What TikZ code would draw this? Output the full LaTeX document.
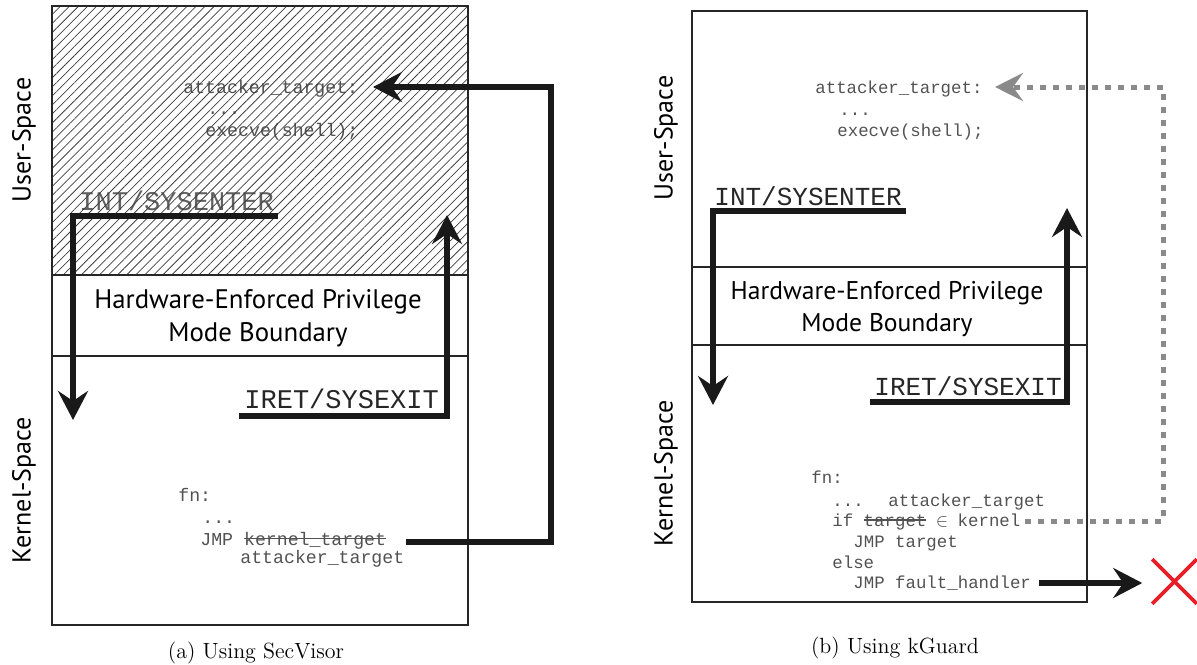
\documentclass[tikz,border=0pt]{standalone}
\usepackage{fontspec}
\setsansfont{PT Sans}
\setmonofont{Liberation Mono}
\usetikzlibrary{arrows.meta,patterns.meta,shapes.misc}
\definecolor{codegray}{gray}{0.32}
\definecolor{dotgray}{RGB}{138,138,138}
\definecolor{xred}{RGB}{232,30,40}
\newcommand{\xstrk}[1]{\setbox0=\hbox{#1}\rlap{\raisebox{0.31em}{\rule{\wd0}{0.07em}}}\box0\relax}
\begin{document}
\begin{tikzpicture}[x=0.5pt,y=-0.5pt,
  frame/.style={draw=black!85,line width=1pt},
  flow/.style={draw=black!90,line width=2.8pt,line join=miter},
  tipA/.style={-{Stealth[length=14.5pt,width=15pt,inset=5pt]}},
  dotline/.style={draw=dotgray,line width=2.5pt,dash pattern=on 3pt off 3.5pt},
  codeL/.style={font=\ttfamily\fontsize{9.1}{11}\selectfont,text=codegray,inner sep=0pt,anchor=base west},
  codeR/.style={font=\ttfamily\fontsize{8.7}{10.5}\selectfont,text=codegray,inner sep=0pt,anchor=base west},
  bigL/.style={font=\ttfamily\fontsize{13.5}{15}\selectfont,inner sep=0pt,anchor=base west},
  bigR/.style={font=\ttfamily\fontsize{13}{15}\selectfont,inner sep=0pt,anchor=base west},
  bndL/.style={font=\sffamily\fontsize{13.4}{15}\selectfont,inner sep=0pt,anchor=base},
  bndR/.style={font=\sffamily\fontsize{12.8}{15}\selectfont,inner sep=0pt,anchor=base},
  side/.style={font=\sffamily\fontsize{13}{15}\selectfont,inner sep=0pt,rotate=90},
  caption/.style={font=\fontsize{11}{13}\selectfont,inner sep=0pt,anchor=base}]
\useasboundingbox (0,0) rectangle (1197,664);

% ---------------- (a) SecVisor ----------------
\node[codeL] (atkL) at (183,93) {attacker\_target:};
\node[codeL] (dotsL) at (207,114) {...};
\node[codeL] (execL) at (205,136) {execve(shell);};
\node[bigL,text=black!62] (intL) at (79,210) {INT/SYSENTER};
\fill[pattern={Lines[angle=45,distance=3.2pt,line width=0.38pt]},pattern color=black!75] (52,6) rectangle (468,275);
\draw[frame] (52,6) rectangle (468,625);
\draw[frame] (52,275) -- (468,275);
\draw[frame] (52,356) -- (468,356);
\node[bndL] (hwL) at (258,308) {Hardware-Enforced Privilege};
\node[bndL] (mbL) at (258,341) {Mode Boundary};
\node[side] (usL) at (24,140) {User-Space};
\node[side] (ksL) at (24,490) {Kernel-Space};
\node[bigL,text=black!85] (iretL) at (244,408) {IRET/SYSEXIT};
\node[codeL] (fnL) at (178,501) {fn:};
\node[codeL] (dots2L) at (202,523) {...};
\node[codeL] (jmpL) at (200,545) {JMP \xstrk{kernel\_target}};
\node[codeL] (newL) at (240,563) {attacker\_target};
\node[caption] (capA) at (256,658) {(a) Using SecVisor};

\coordinate (intLs) at (278,216);
\coordinate (intLc) at (73,216);
\coordinate (intLe) at (73,420);
\draw[flow,tipA] (intLs) -- (intLc) -- (intLe);
\coordinate (iretLs) at (239,416);
\coordinate (iretLc) at (447,416);
\coordinate (iretLe) at (447,215);
\draw[flow,tipA] (iretLs) -- (iretLc) -- (iretLe);
\coordinate (atkLs) at (406,542);
\coordinate (atkLc1) at (551,542);
\coordinate (atkLc2) at (551,87);
\coordinate (atkLe) at (373,87);
\draw[flow,tipA] (atkLs) -- (atkLc1) -- (atkLc2) -- (atkLe);

% ---------------- (b) kGuard ----------------
\draw[frame] (692,11) rectangle (1087,602);
\draw[frame] (692,267) -- (1087,267);
\draw[frame] (692,345) -- (1087,345);
\node[bndR] (hwR) at (887,299) {Hardware-Enforced Privilege};
\node[bndR] (mbR) at (887,331) {Mode Boundary};
\node[side] (usR) at (666,138) {User-Space};
\node[side] (ksR) at (666,473) {Kernel-Space};
\node[codeR] (atkR) at (815,93) {attacker\_target:};
\node[codeR] (dotsR) at (839,115) {...};
\node[codeR] (execR) at (837,136) {execve(shell);};
\node[bigR,text=black!85] (intR) at (714,205) {INT/SYSENTER};
\node[bigR,text=black!85] (iretR) at (874,395) {IRET/SYSEXIT};
\node[codeR] (fnR) at (811,483) {fn:};
\node[codeR] (dots2R) at (832,506) {...};
\node[codeR] (atk2R) at (888,506) {attacker\_target};
\node[codeR] (ifR) at (832,526) {if \xstrk{target} \makebox[0.6em]{$\in$} kernel};
\node[codeR] (jmp1R) at (853,547) {JMP target};
\node[codeR] (elseR) at (832,568) {else};
\node[codeR] (jmp2R) at (853,588) {JMP fault\_handler};
\node[draw=xred,cross out,line width=1.8pt,minimum width=20.5pt,minimum height=20.5pt,inner sep=0pt] (xmark) at (1174.5,581.5) {};
\node[caption] (capB) at (895,653) {(b) Using kGuard};

\coordinate (intRs) at (906,211);
\coordinate (intRc) at (713,211);
\coordinate (intRe) at (713,405);
\draw[flow,tipA] (intRs) -- (intRc) -- (intRe);
\coordinate (iretRs) at (870,402);
\coordinate (iretRc) at (1067,402);
\coordinate (iretRe) at (1067,208);
\draw[flow,tipA] (iretRs) -- (iretRc) -- (iretRe);
\coordinate (chkRs) at (1025,521);
\coordinate (chkRc1) at (1163,521);
\coordinate (chkRc2) at (1163,87);
\coordinate (chkRe) at (995,87);
\draw[dotline,-{Stealth[length=14pt,width=14pt,inset=5pt]}] (chkRs) -- (chkRc1) -- (chkRc2) -- (chkRe);
\coordinate (fltRs) at (1039,583);
\draw[flow,tipA,shorten >=5pt] (fltRs) -- (xmark.west |- fltRs);
\end{tikzpicture}
\end{document}
